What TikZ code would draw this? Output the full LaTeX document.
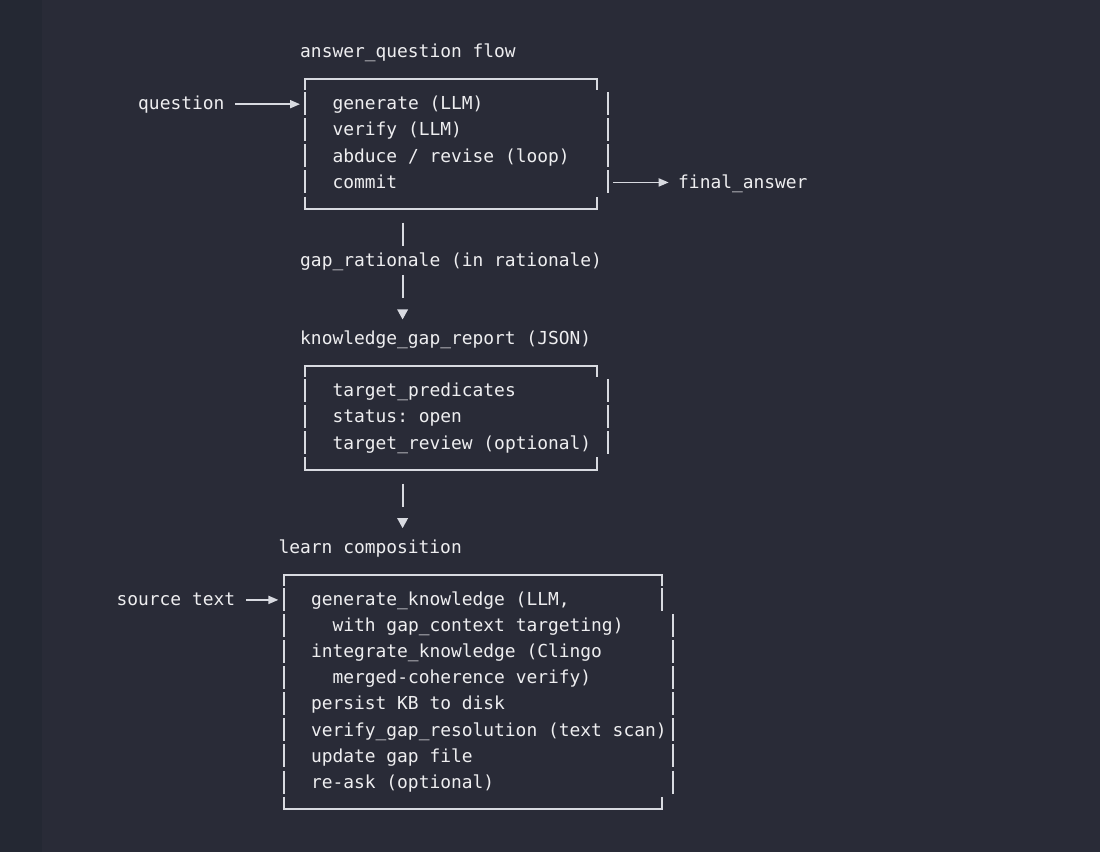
\documentclass[tikz,border=0pt]{standalone}
\usepackage{fontspec}
\setmonofont{DejaVu Sans Mono}
\usetikzlibrary{arrows.meta}
\definecolor{bg}{HTML}{292B37}
\definecolor{bgl}{HTML}{242833}
\definecolor{fg}{HTML}{EEEEF0}
\definecolor{ln}{HTML}{D8DAE0}
% column start, column centre, row centre (pixels, y downward)
\newcommand\colx[1]{(138+10.8*(#1))}
\newcommand\colm[1]{(143.4+10.8*(#1))}
\newcommand\rowy[1]{(51.5+26.09*(#1))}
\tikzset{
  txt/.style={anchor=mid west, inner sep=0pt, yshift=-4pt, text=fg, font=\ttfamily\fontsize{17.9}{20}\selectfont},
  frame/.style={draw=ln, line width=2pt, line join=miter, line cap=butt},
  bar/.style={draw=ln, line width=2pt, line cap=butt},
  arr/.style={draw=ln, line width=1.8pt, -{Triangle[length=10pt,width=8pt]}},
  tri/.style={fill=ln}
}
\newcommand\vbar[2]{\draw[bar] ({\colm{#1}},{\rowy{#2}-11.5}) -- ({\colm{#1}},{\rowy{#2}+11.5});}
\newcommand\boxtop[3]{\draw[frame] ({\colm{#1}},{\rowy{#3}+12.5}) -- ({\colm{#1}},{\rowy{#3}+1.5}) -- ({\colm{#2}},{\rowy{#3}+1.5}) -- ({\colm{#2}},{\rowy{#3}+12.5});}
\newcommand\boxbot[3]{\draw[frame] ({\colm{#1}},{\rowy{#3}-11.5}) -- ({\colm{#1}},{\rowy{#3}+1}) -- ({\colm{#2}},{\rowy{#3}+1}) -- ({\colm{#2}},{\rowy{#3}-11.5});}
\newcommand\downtri[1]{\fill[tri] ({\colm{24}-5.5},{\rowy{#1}-3}) -- ({\colm{24}+5.5},{\rowy{#1}-3}) -- ({\colm{24}},{\rowy{#1}+7}) -- cycle;}
\begin{document}
\begin{tikzpicture}[x=1pt,y=-1pt]
\useasboundingbox (0,0) rectangle (1100,852);
\fill[bg] (0,0) rectangle (1100,852);
\fill[bgl] (0,0) rectangle (42,852);

% ---------- answer_question flow ----------
\node[txt] (aqf) at ({\colx{15}},{\rowy{0}}) {answer\_question flow};
\boxtop{15}{42}{1}
\foreach \r in {2,...,5} {\vbar{15}{\r} \vbar{43}{\r}}
\boxbot{15}{42}{6}
\node[txt] (gen) at ({\colx{18}},{\rowy{2}}) {generate (LLM)};
\node[txt] (ver) at ({\colx{18}},{\rowy{3}}) {verify (LLM)};
\node[txt] (abd) at ({\colx{18}},{\rowy{4}}) {abduce / revise (loop)};
\node[txt] (com) at ({\colx{18}},{\rowy{5}}) {commit};

\node[txt] (q) at ({\colx{0}},{\rowy{2}}) {question};
\coordinate (qs) at ({\colx{9}},{\rowy{2}+0.5});
\coordinate (qe) at ({\colx{15}},{\rowy{2}+0.5});
\draw[arr] (qs) -- (qe);

\node[txt] (fa) at ({\colx{50}},{\rowy{5}}) {final\_answer};
\coordinate (fs) at ({\colx{44}},{\rowy{5}+0.5});
\coordinate (fe) at ({\colx{49}+1.5},{\rowy{5}+0.5});
\draw[arr] (fs) -- (fe);

% ---------- gap rationale ----------
\vbar{24}{7}
\node[txt] (gr) at ({\colx{15}},{\rowy{8}}) {gap\_rationale (in rationale)};
\vbar{24}{9}
\downtri{10}

% ---------- knowledge gap report ----------
\node[txt] (kgr) at ({\colx{15}},{\rowy{11}}) {knowledge\_gap\_report (JSON)};
\boxtop{15}{42}{12}
\foreach \r in {13,...,15} {\vbar{15}{\r} \vbar{43}{\r}}
\boxbot{15}{42}{16}
\node[txt] (tp) at ({\colx{18}},{\rowy{13}}) {target\_predicates};
\node[txt] (st) at ({\colx{18}},{\rowy{14}}) {status: open};
\node[txt] (tr) at ({\colx{18}},{\rowy{15}}) {target\_review (optional)};

\vbar{24}{17}
\downtri{18}

% ---------- learn composition ----------
\node[txt] (lc) at ({\colx{13}},{\rowy{19}}) {learn composition};
\boxtop{13}{48}{20}
\vbar{13}{21} \vbar{48}{21}
\foreach \r in {22,...,28} {\vbar{13}{\r} \vbar{49}{\r}}
\boxbot{13}{48}{29}

\node[txt] (src) at ({\colx{-2}},{\rowy{21}}) {source text};
\coordinate (ss) at ({\colx{10}},{\rowy{21}+0.5});
\coordinate (se) at ({\colx{13}},{\rowy{21}+0.5});
\draw[arr] (ss) -- (se);

\node[txt] (l1) at ({\colx{16}},{\rowy{21}}) {generate\_knowledge (LLM,};
\node[txt] (l2) at ({\colx{18}},{\rowy{22}}) {with gap\_context targeting)};
\node[txt] (l3) at ({\colx{16}},{\rowy{23}}) {integrate\_knowledge (Clingo};
\node[txt] (l4) at ({\colx{18}},{\rowy{24}}) {merged-coherence verify)};
\node[txt] (l5) at ({\colx{16}},{\rowy{25}}) {persist KB to disk};
\node[txt] (l6) at ({\colx{16}},{\rowy{26}}) {verify\_gap\_resolution (text scan)};
\node[txt] (l7) at ({\colx{16}},{\rowy{27}}) {update gap file};
\node[txt] (l8) at ({\colx{16}},{\rowy{28}}) {re-ask (optional)};
\end{tikzpicture}
\end{document}
